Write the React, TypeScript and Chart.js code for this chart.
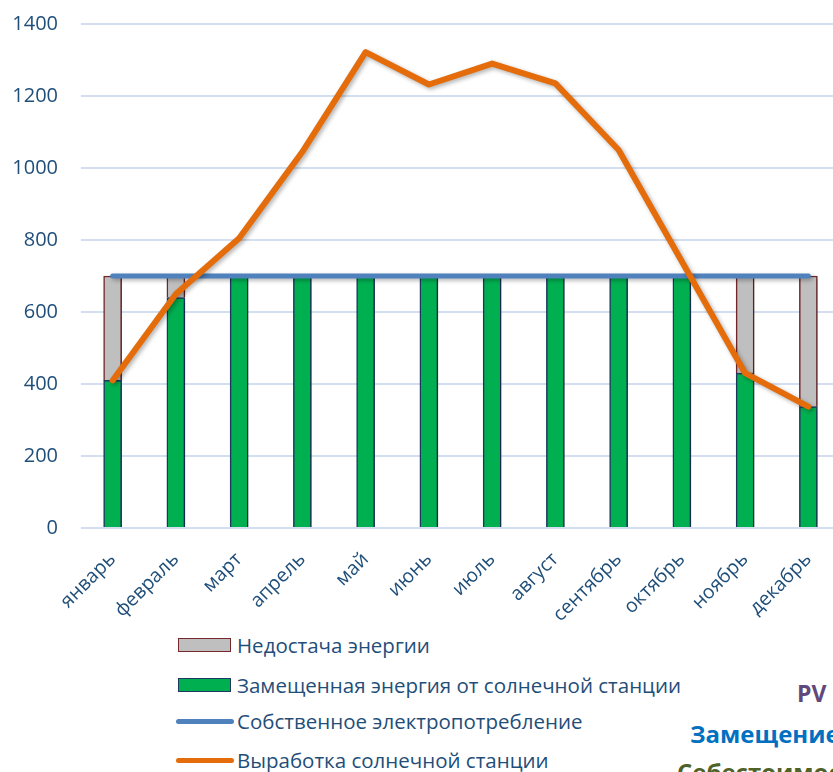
import React, { useEffect, useRef } from "react";
import { Chart, registerables } from "chart.js";

Chart.register(...registerables);

const months = ["январь", "февраль", "март", "апрель", "май", "июнь", "июль", "август", "сентябрь", "октябрь", "ноябрь", "декабрь"];
const shortage = [290, 60, null, null, null, null, null, null, null, null, 270, 363];
const replaced = [410, 640, 700, 700, 700, 700, 700, 700, 700, 700, 430, 337];
const consumption = [700, 700, 700, 700, 700, 700, 700, 700, 700, 700, 700, 700];
const generation = [410, 650, 805, 1045, 1322, 1232, 1290, 1235, 1050, 740, 430, 337];
const yTicks = [0, 200, 400, 600, 800, 1000, 1200, 1400];

const seriesNames = [
  "Недостача энергии",
  "Замещенная энергия от солнечной станции",
  "Собственное электропотребление",
  "Выработка солнечной станции",
];

const TEXT = "#1f4e79";
const FONT = "'Open Sans', 'Noto Sans', sans-serif";

const shadowPlugin = {
  id: "shadow",
  beforeDatasetDraw(chart: any) {
    const ctx = chart.ctx;
    ctx.save();
    ctx.shadowColor = "rgba(0,0,0,0.3)";
    ctx.shadowBlur = 4;
    ctx.shadowOffsetX = 2;
    ctx.shadowOffsetY = 2;
  },
  afterDatasetDraw(chart: any) {
    chart.ctx.restore();
  },
};

export default function App() {
  const ref = useRef<HTMLCanvasElement | null>(null);
  useEffect(() => {
    if (!ref.current) return;
    const chart = new Chart(ref.current, {
      type: "bar",
      data: {
        labels: months,
        datasets: [
          {
            type: "bar",
            label: seriesNames[1],
            data: replaced,
            backgroundColor: "#00b050",
            borderColor: "#1f3864",
            borderWidth: 1.5,
            barThickness: 18,
            stack: "s",
            order: 2,
          } as any,
          {
            type: "bar",
            label: seriesNames[0],
            data: shortage,
            backgroundColor: "#bfbfbf",
            borderColor: "#76292b",
            borderWidth: 1.5,
            barThickness: 18,
            stack: "s",
            order: 3,
          } as any,
          {
            type: "line",
            label: seriesNames[2],
            data: consumption,
            borderColor: "#4f81bd",
            borderWidth: 5,
            pointRadius: 0,
            borderCapStyle: "round",
            stack: "l1",
            order: 1,
          } as any,
          {
            type: "line",
            label: seriesNames[3],
            data: generation,
            borderColor: "#e46c0a",
            borderWidth: 6,
            pointRadius: 0,
            borderCapStyle: "round",
            borderJoinStyle: "round",
            stack: "l2",
            order: 0,
          } as any,
        ],
      },
      options: {
        responsive: false,
        animation: false,
        layout: { padding: { left: 0, top: 24, right: 5, bottom: 0 } },
        plugins: { legend: { display: false }, tooltip: { enabled: false } },
        scales: {
          x: {
            stacked: true,
            grid: { display: false, drawTicks: false },
            border: { display: false },
            ticks: {
              color: TEXT,
              font: { family: FONT, size: 19.5 },
              maxRotation: 45,
              minRotation: 45,
              autoSkip: false,
              padding: 20,
            },
            afterFit: (s: any) => {
              s.height = 92;
              s.paddingLeft = 0;
              s.paddingRight = 0;
            },
          },
          y: {
            stacked: true,
            min: 0,
            max: 1400,
            afterBuildTicks: (s: any) => {
              s.ticks = yTicks.map((v) => ({ value: v }));
            },
            grid: { color: "#d3dff0", lineWidth: 2, drawTicks: false },
            border: { display: false },
            ticks: {
              color: TEXT,
              font: { family: FONT, size: 20 },
              padding: 23,
              callback: (v: any) => String(v),
            },
            afterFit: (s: any) => {
              s.width = 81;
              s.paddingTop = 0;
              s.paddingBottom = 0;
            },
          },
        },
      },
      plugins: [shadowPlugin],
    });
    return () => chart.destroy();
  }, []);

  const legendRow = (top: number, kind: "box" | "line", fill: string, stroke: string, text: string) => (
    <div style={{ position: "absolute", left: 176, top, height: 24, display: "flex", alignItems: "center" }}>
      {kind === "box" ? (
        <div style={{ width: 51, height: 12, marginLeft: 2, marginRight: 6, background: fill, border: `1.5px solid ${stroke}` }} />
      ) : (
        <div style={{ width: 58, height: 5, marginRight: 3, background: fill, borderRadius: 3 }} />
      )}
      <span style={{ color: TEXT, fontFamily: FONT, fontSize: 20.5, whiteSpace: "nowrap", lineHeight: "24px" }}>{text}</span>
    </div>
  );

  return (
    <div style={{ position: "absolute", left: 0, top: 0, width: 833, height: 772, overflow: "hidden", background: "#fff" }}>
      <canvas ref={ref} width={845} height={620} style={{ position: "absolute", left: 0, top: 0 }} />
      {legendRow(633, "box", "#bfbfbf", "#76292b", seriesNames[0])}
      {legendRow(673, "box", "#00b050", "#1f3864", seriesNames[1])}
      {legendRow(709, "line", "#4f81bd", "#4f81bd", seriesNames[2])}
      {legendRow(748, "line", "#e46c0a", "#e46c0a", seriesNames[3])}
      <div style={{ position: "absolute", left: 797, top: 678, color: "#5f497a", fontFamily: FONT, fontWeight: 700, fontSize: 23, whiteSpace: "nowrap", lineHeight: "30px" }}>PV</div>
      <div style={{ position: "absolute", left: 690, top: 719, color: "#0070c0", fontFamily: FONT, fontWeight: 700, fontSize: 24, whiteSpace: "nowrap", lineHeight: "30px" }}>Замещение</div>
      <div style={{ position: "absolute", left: 677, top: 757, color: "#4f6228", fontFamily: FONT, fontWeight: 700, fontSize: 24, whiteSpace: "nowrap", lineHeight: "30px" }}>Себестоимость</div>
    </div>
  );
}
